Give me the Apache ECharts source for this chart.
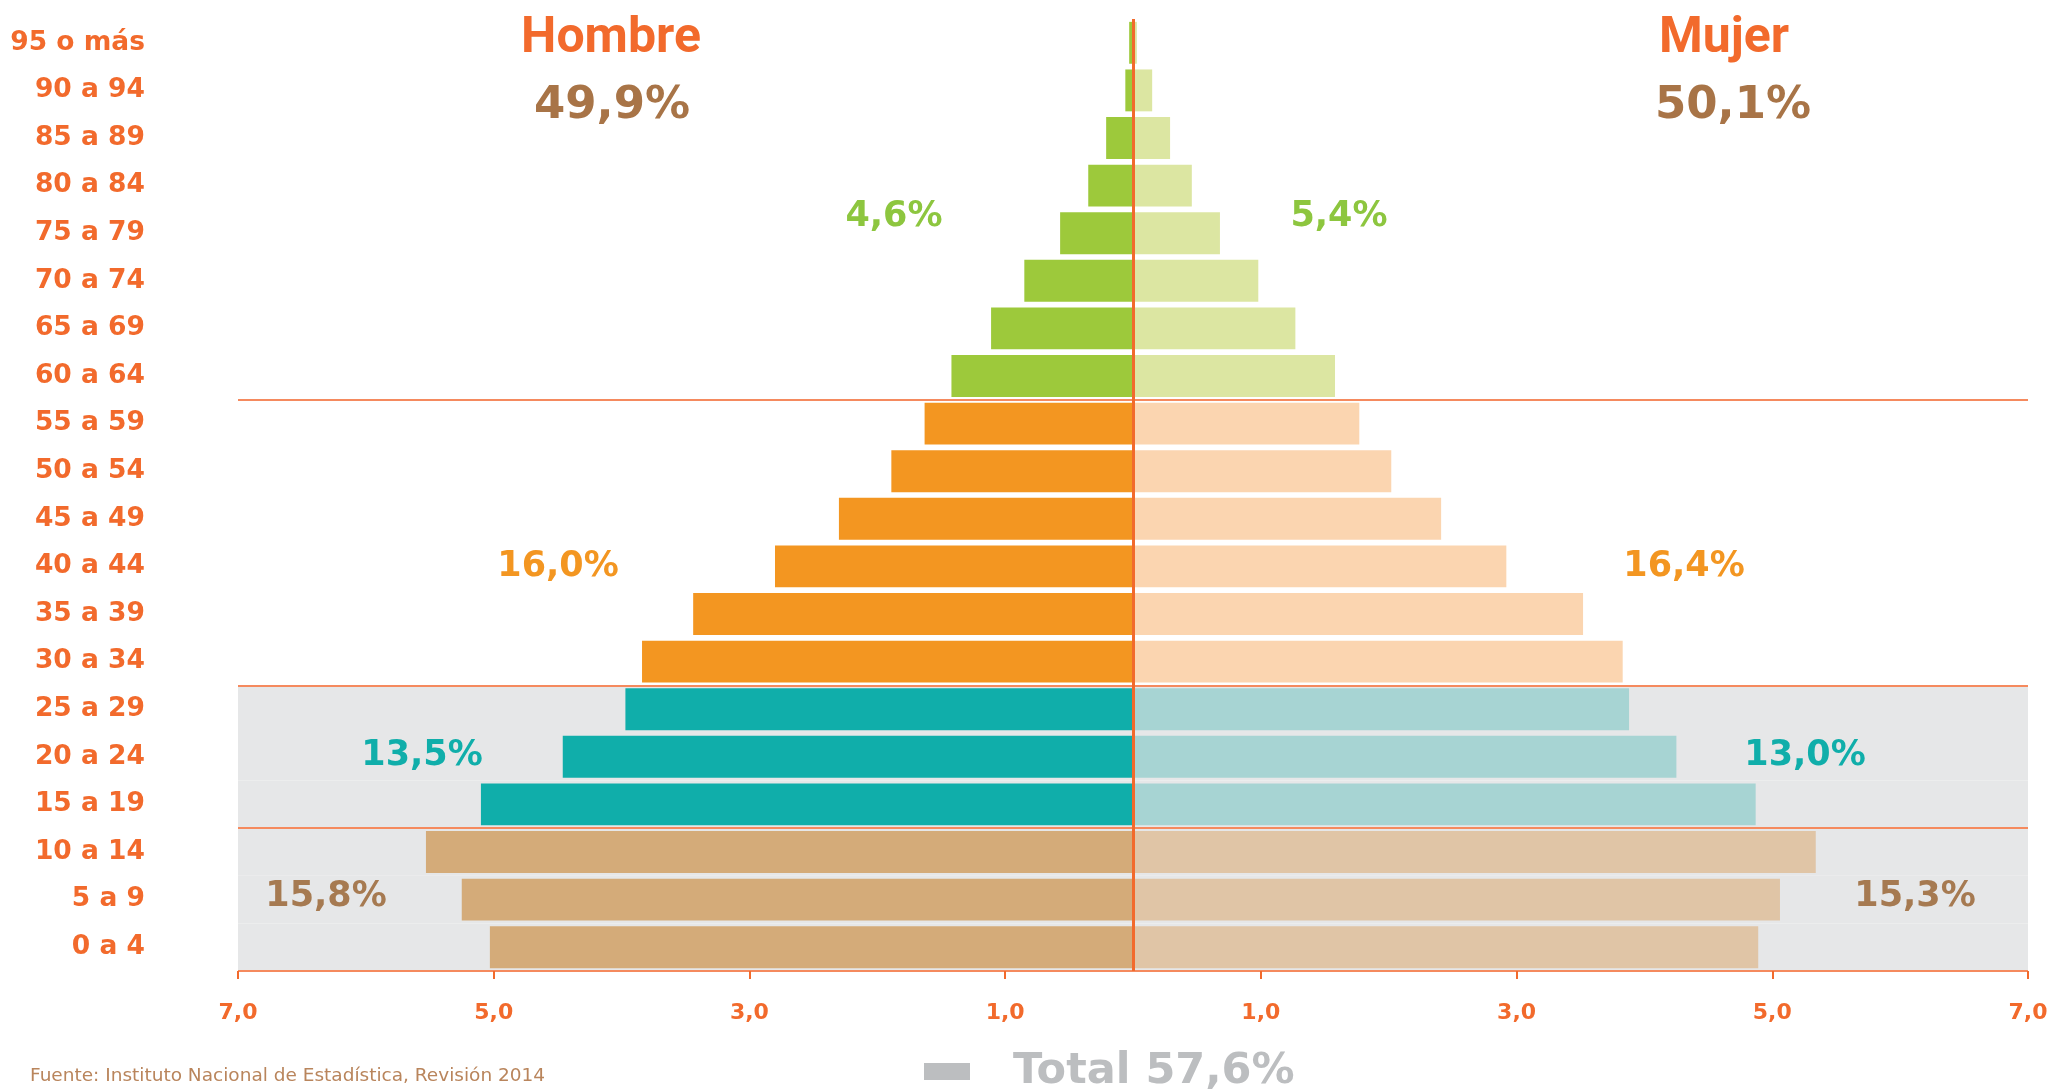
<!DOCTYPE html>
<html>
<head>
<meta charset="utf-8">
<title>Pirámide de población 2014</title>
<script src="https://cdn.jsdelivr.net/npm/echarts@6/dist/echarts.min.js"></script>
<style>
html, body { margin: 0; padding: 0; background: #fff; }
#chart { width: 2072px; height: 1090px; }
</style>
</head>
<body>
<div id="chart"></div>
<script>
// grupos de edad, de arriba hacia abajo
var edades = ['95 o más', '90 a 94', '85 a 89', '80 a 84', '75 a 79', '70 a 74', '65 a 69', '60 a 64',
    '55 a 59', '50 a 54', '45 a 49', '40 a 44', '35 a 39', '30 a 34',
    '25 a 29', '20 a 24', '15 a 19', '10 a 14', '5 a 9', '0 a 4'];
var hombres = [0.03, 0.06, 0.21, 0.35, 0.57, 0.85, 1.11, 1.42,
    1.63, 1.89, 2.30, 2.80, 3.44, 3.84,
    3.97, 4.46, 5.10, 5.53, 5.25, 5.03];
var mujeres = [0.03, 0.15, 0.29, 0.46, 0.68, 0.98, 1.27, 1.58,
    1.77, 2.02, 2.41, 2.92, 3.52, 3.83,
    3.88, 4.25, 4.87, 5.34, 5.06, 4.89];
var ejeValores = [-7, -5, -3, -1, 1, 3, 5, 7];

// tramos: 60 y más, 30 a 59, 15 a 29, 0 a 14 (filas por tramo)
var tramoFilas = [8, 6, 3, 3];
var tramoHombres = ['4,6%', '16,0%', '13,5%', '15,8%'];
var tramoMujeres = ['5,4%', '16,4%', '13,0%', '15,3%'];
var totalHombre = '49,9%';
var totalMujer = '50,1%';
var totalSombra = 'Total 57,6%';
var filasSombra = 6;

var coloresH = ['#9DC93B', '#F39621', '#10AEAA', '#D4AB79'];
var coloresM = ['#DCE6A2', '#FBD5B0', '#A7D4D3', '#E0C5A6'];
var coloresTxt = ['#8DC63F', '#F39621', '#10AEAA', '#A67A51'];
var naranja = '#F26A2C';

// posiciones de los textos de cada tramo
var posH = [[894, 217], [558, 567], [422, 756], [326, 897]];
var posM = [[1339, 217], [1684, 567], [1805, 756], [1915, 897]];

function tramoDe(i) {
    var acc = 0;
    for (var t = 0; t < tramoFilas.length; t++) {
        acc += tramoFilas[t];
        if (i < acc) return t;
    }
    return tramoFilas.length - 1;
}
// limites entre tramos (indice de la fila de abajo)
var limites = [];
var acc = 0;
for (var t = 0; t < tramoFilas.length - 1; t++) {
    acc += tramoFilas[t];
    limites.push(acc);
}

var maxEje = 7;
var sombraIzq = edades.map(function (e, i) { return i >= edades.length - filasSombra ? -maxEje : null; });
var sombraDer = edades.map(function (e, i) { return i >= edades.length - filasSombra ? maxEje : null; });

var titulos = [
    {text: 'Hombre', left: 611, top: 39, textStyle: {fontFamily: 'Roboto', fontWeight: 'bold', fontSize: 50, color: naranja}},
    {text: totalHombre, left: 612, top: 106, textStyle: {fontFamily: 'DejaVu Sans', fontWeight: 'bold', fontSize: 45, color: '#A87447'}},
    {text: 'Mujer', left: 1724, top: 39, textStyle: {fontFamily: 'Roboto', fontWeight: 'bold', fontSize: 50, color: naranja}},
    {text: totalMujer, left: 1733, top: 106, textStyle: {fontFamily: 'DejaVu Sans', fontWeight: 'bold', fontSize: 45, color: '#A87447'}}
];
for (var k = 0; k < tramoHombres.length; k++) {
    titulos.push({text: tramoHombres[k], left: posH[k][0], top: posH[k][1],
        textStyle: {fontFamily: 'DejaVu Sans', fontWeight: 'bold', fontSize: 35, color: coloresTxt[k]}});
    titulos.push({text: tramoMujeres[k], left: posM[k][0], top: posM[k][1],
        textStyle: {fontFamily: 'DejaVu Sans', fontWeight: 'bold', fontSize: 35, color: coloresTxt[k]}});
}
titulos.forEach(function (t) {
    t.textAlign = 'center';
    t.textVerticalAlign = 'middle';
    t.padding = 0;
});
titulos.push({
    text: 'Fuente: Instituto Nacional de Estadística, Revisión 2014',
    left: 30, top: 1076, padding: 0, textVerticalAlign: 'middle',
    textStyle: {fontFamily: 'DejaVu Sans', fontWeight: 'normal', fontSize: 18.5, color: '#B9855C'}
});

var myChart = echarts.init(document.getElementById('chart'));
var rejilla = {left: 238, right: 44, top: 19, bottom: 119};

var option = {
    animation: false,
    backgroundColor: '#fff',
    title: titulos,
    legend: {
        data: [{name: totalSombra, icon: 'rect', itemStyle: {color: '#BCBEC0'}}],
        left: 924, top: 1050, padding: 0,
        itemWidth: 46, itemHeight: 17,
        selectedMode: false,
        textStyle: {fontFamily: 'DejaVu Sans', fontWeight: 'bold', fontSize: 43, color: '#BCBEC0', padding: [0, 0, 0, 38]}
    },
    grid: [rejilla, rejilla],
    xAxis: [{
        type: 'value', gridIndex: 0, min: -maxEje, max: maxEje, z: 4,
        axisLine: {lineStyle: {color: naranja, width: 3}},
        axisTick: {show: true, customValues: ejeValores, length: 8, lineStyle: {color: naranja, width: 2}},
        axisLabel: {
            customValues: ejeValores, margin: 31,
            fontFamily: 'DejaVu Sans', fontWeight: 'bold', fontSize: 22, color: naranja,
            formatter: function (v) { return Math.abs(v).toFixed(1).replace('.', ','); }
        },
        splitLine: {show: false}
    }, {
        type: 'value', gridIndex: 1, min: -maxEje, max: maxEje, show: false
    }],
    yAxis: [{
        type: 'category', gridIndex: 0, data: edades, inverse: true,
        axisLine: {show: false, onZero: false},
        axisTick: {show: false},
        axisLabel: {margin: 93, fontFamily: 'DejaVu Sans', fontWeight: 'bold', fontSize: 26.5, color: naranja},
        splitLine: {show: false}
    }, {
        type: 'category', gridIndex: 1, data: edades, inverse: true, z: 2,
        axisLine: {show: false, onZero: false},
        axisTick: {show: false},
        axisLabel: {show: false},
        splitLine: {
            show: true,
            interval: function (i) { return limites.indexOf(i) >= 0; },
            lineStyle: {color: '#F58A5E', width: 2}
        }
    }],
    series: [{
        name: totalSombra, type: 'bar', xAxisIndex: 1, yAxisIndex: 1,
        data: sombraIzq, barGap: '-100%', barCategoryGap: '0%', z: 1, silent: true,
        itemStyle: {color: '#E6E7E8'}
    }, {
        name: totalSombra, type: 'bar', xAxisIndex: 1, yAxisIndex: 1,
        data: sombraDer, barGap: '-100%', barCategoryGap: '0%', z: 1, silent: true,
        itemStyle: {color: '#E6E7E8'}
    }, {
        name: 'Hombre', type: 'bar', xAxisIndex: 0, yAxisIndex: 0,
        data: hombres.map(function (v) { return -v; }),
        barGap: '-100%', barCategoryGap: '12%', z: 3,
        itemStyle: {color: function (p) { return coloresH[tramoDe(p.dataIndex)]; }}
    }, {
        name: 'Mujer', type: 'bar', xAxisIndex: 0, yAxisIndex: 0,
        data: mujeres,
        barGap: '-100%', barCategoryGap: '12%', z: 3,
        itemStyle: {color: function (p) { return coloresM[tramoDe(p.dataIndex)]; }},
        markLine: {
            silent: true, symbol: ['none', 'none'],
            label: {show: false},
            lineStyle: {color: naranja, width: 3, type: 'solid'},
            data: [{xAxis: 0}]
        }
    }]
};

myChart.setOption(option);
</script>
</body>
</html>
